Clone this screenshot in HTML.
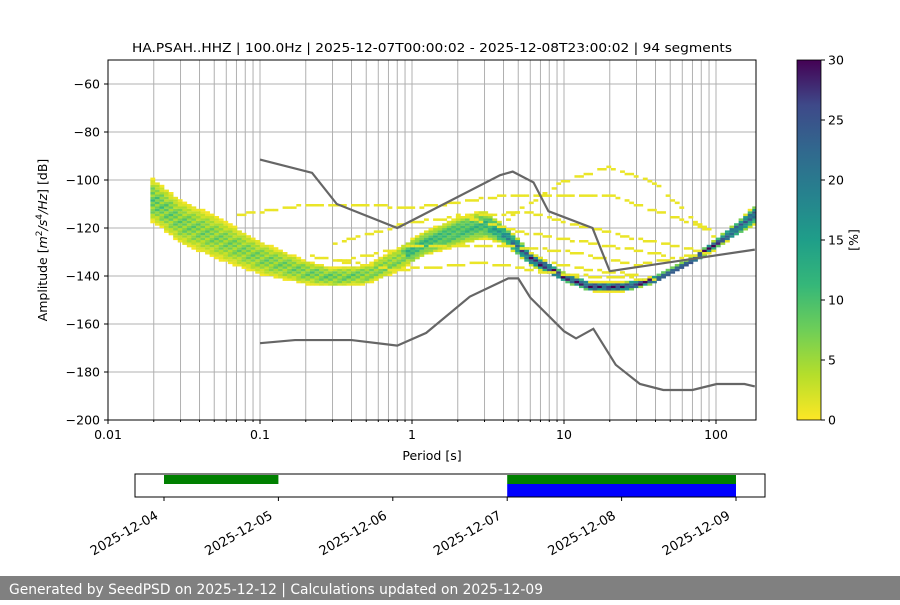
<!DOCTYPE html>
<html><head><meta charset="utf-8"><style>
body{margin:0;background:#fff;}
svg text{font-family:"DejaVu Sans","Liberation Sans",sans-serif;fill:#000;}
</style></head><body>
<svg id="chart" width="900" height="600" viewBox="0 0 900 600" xmlns="http://www.w3.org/2000/svg">
<rect width="900" height="600" fill="#fff"/>
<g id="grid"></g>
<g id="cells"></g>
<g id="models"></g>
<rect x="108" y="60" width="648" height="360" fill="none" stroke="#000" stroke-width="1"/>
<g id="axes"></g>
<text x="432" y="52" text-anchor="middle" font-size="12.5" textLength="600" lengthAdjust="spacingAndGlyphs">HA.PSAH..HHZ | 100.0Hz | 2025-12-07T00:00:02 - 2025-12-08T23:00:02 | 94 segments</text>
<text x="432" y="460" text-anchor="middle" font-size="12.5">Period [s]</text>
<text transform="translate(47,240) rotate(-90)" text-anchor="middle" font-size="12.5">Amplitude [<tspan font-style="italic">m</tspan><tspan font-size="9" dy="-5">2</tspan><tspan dy="5" font-style="italic">/s</tspan><tspan font-size="9" dy="-5">4</tspan><tspan dy="5" font-style="italic">/Hz</tspan>] [dB]</text>
<defs><linearGradient id="vir" x1="0" y1="1" x2="0" y2="0">
<stop offset="0" stop-color="#fde725"/><stop offset="0.125" stop-color="#b5de2b"/><stop offset="0.25" stop-color="#6ece58"/><stop offset="0.375" stop-color="#35b779"/><stop offset="0.5" stop-color="#1f9e89"/><stop offset="0.625" stop-color="#26828e"/><stop offset="0.75" stop-color="#31688e"/><stop offset="0.875" stop-color="#3e4989"/><stop offset="1" stop-color="#440154"/></linearGradient></defs>
<rect x="797" y="60" width="24" height="360" fill="url(#vir)" stroke="#000" stroke-width="0.8"/>
<g id="cbticks"></g>
<text transform="translate(858,240) rotate(-90)" text-anchor="middle" font-size="12.5">[%]</text>
<g id="timeline"></g>
<rect x="0" y="576" width="900" height="24" fill="#808080"/>
<text x="9" y="594" font-size="14" style="fill:#fff" textLength="534" lengthAdjust="spacingAndGlyphs">Generated by SeedPSD on 2025-12-12 | Calculations updated on 2025-12-09</text>
</svg>
<script>
const modePeriods=[0.02,0.03,0.05,0.1,0.2,0.3,0.5,0.8,1.2,2,3,4,6,10,15,25,40,70,100,150,180];
const modeDb=[-109,-118,-124,-133,-139,-141,-140,-134,-127,-122,-119,-123,-133,-141,-145,-145,-142,-134,-127,-119,-115];
const modeSpread=[9,9,9,7,5,4,4,5,5,6,6,4,3,2,2,2,1.5,1.5,2,3,4];
const modePeak=[16,14,13,13,14,15,14,13,12,11,12,18,28,30,30,30,30,30,28,26,24];
const yellowCurves=[
 {p:[0.07,0.2,0.5,1,2,4,8,20,60,100],db:[-115,-111,-111,-112,-110,-107,-107,-107,-117,-122]},
 {p:[4,6,10,20,40,80,100],db:[-118,-110,-101,-95,-102,-120,-125]},
 {p:[0.3,1,3,6,10,30,80],db:[-127,-118,-115,-114,-118,-125,-130]},
 {p:[0.3,1,4,10,30,100],db:[-135,-128,-128,-130,-136,-130]},
 {p:[0.2,0.8,3,10,40],db:[-132,-138,-135,-140,-142]},
 {p:[2,5,10,20,50],db:[-115,-122,-125,-128,-132]},
 {p:[5,8,15,30],db:[-128,-135,-138,-140]}
];
const nhnmP=[0.1,0.22,0.32,0.8,3.8,4.6,6.3,7.9,15.4,20,180];
const nhnmDb=[-91.5,-97,-110,-120,-98,-96.5,-101,-113,-120,-138,-129];
const nlnmP=[0.1,0.17,0.4,0.8,1.24,2.4,4.3,5,6,10,12,15.6,21.9,31.6,45,70,101,154,180];
const nlnmDb=[-168,-166.7,-166.7,-169,-163.7,-148.6,-141,-141,-149,-163,-166,-162,-177,-185,-187.5,-187.5,-185,-185,-186];
const yTicks=[-60,-80,-100,-120,-140,-160,-180,-200];
const xTicks=[0.01,0.1,1,10,100];
const cbTicks=[0,5,10,15,20,25,30];
const dates=["2025-12-04","2025-12-05","2025-12-06","2025-12-07","2025-12-08","2025-12-09"];
const greenSpans=[[0,1],[3,5]];
const blueSpans=[[3,5]];

const NS="http://www.w3.org/2000/svg";
function X(p){return 108+(Math.log10(p)+2)*152;}
function Y(db){return 60+(-50-db)*2.4;}
function mk(t,a,parent){const e=document.createElementNS(NS,t);for(const k in a)e.setAttribute(k,a[k]);parent.appendChild(e);return e;}
function interp(ps,vs,p){const lp=Math.log10(p);
 if(p<=ps[0])return vs[0]; if(p>=ps[ps.length-1])return vs[vs.length-1];
 for(let i=0;i<ps.length-1;i++){const a=Math.log10(ps[i]),b=Math.log10(ps[i+1]);if(lp>=a&&lp<=b){return vs[i]+(vs[i+1]-vs[i])*(lp-a)/(b-a);}}}
const vstops=[[253,231,37],[181,222,43],[110,206,88],[53,183,121],[31,158,137],[38,130,142],[49,104,142],[62,73,137],[68,1,84]];
function vir(v){let t=Math.max(0,Math.min(1,v/30))*8;const i=Math.min(7,Math.floor(t)),f=t-i;const a=vstops[i],b=vstops[i+1];
 return "rgb("+a.map((c,k)=>Math.round(c+(b[k]-c)*f)).join(",")+")";}

const grid=document.getElementById('grid');
for(let d=-2;d<=2;d++)for(let m=1;m<=9;m++){const p=m*Math.pow(10,d);const x=X(p);if(x<=108.5||x>=756)continue;
 const l=mk('line',{x1:x,x2:x,y1:60,y2:420,stroke:'#b0b0b0','stroke-width':1},grid);
 
 }
yTicks.forEach(v=>{const y=Y(v);if(y<=60||y>=420)return;
 const l=mk('line',{x1:108,x2:756,y1:y,y2:y,stroke:'#b0b0b0','stroke-width':1},grid);
 
 });

const cells=document.getElementById('cells');
const step=0.03;
let col=0;
for(let lp=Math.log10(0.019);lp<Math.log10(185);lp+=step){
 col++;
 const p=Math.pow(10,lp+step/2);const x0=X(Math.pow(10,lp)),x1=X(Math.pow(10,lp+step));
 if(x0>=756)break;
 const m=interp(modePeriods,modeDb,p),s=interp(modePeriods,modeSpread,p),pk=interp(modePeriods,modePeak,p);
 for(let db=Math.floor(m-s);db<=Math.ceil(m+s);db++){
  const d=Math.abs(db-m)/s; if(d>1)continue;
  const wob=((col*7+db*3)%5)/5;
  const v=Math.max(0.5,pk*(1-d*d)*(0.7+0.5*wob));
  const r=mk('rect',{x:x0,y:Y(db+1),width:Math.min(x1,756)-x0+0.3,height:2.5,fill:vir(v)},cells);
  
  
 }
 yellowCurves.forEach((c,ci)=>{
  if(p<c.p[0]||p>c.p[c.p.length-1])return;
  if(((col+ci)%5)===4)return;
  const db=Math.round(interp(c.p,c.db,p));
  const r=mk('rect',{x:x0,y:Y(db+1),width:Math.min(x1,756)-x0+0.3,height:2.5,fill:vir(1)},cells);
  
  
 });
}

const models=document.getElementById('models');
function poly(ps,ds,name){const pts=ps.map((p,i)=>X(p)+","+Y(ds[i])).join(" ");
 const l=mk('polyline',{points:pts,fill:'none',stroke:'#666','stroke-width':2.2},models);
 
 }
poly(nhnmP,nhnmDb,'new-high-noise-model');
poly(nlnmP,nlnmDb,'new-low-noise-model');
mk('rect',{x:756.5,y:55,width:20,height:370,fill:'#fff'},models);

const axes=document.getElementById('axes');
yTicks.forEach(v=>{const y=Y(v);mk('line',{x1:104,x2:108,y1:y,y2:y,stroke:'#000'},axes);
 const t=mk('text',{x:100,y:y+4.5,'text-anchor':'end','font-size':12.5},axes);t.textContent='\u2212'+Math.abs(v);
 
 });
xTicks.forEach(v=>{const x=X(v);mk('line',{x1:x,x2:x,y1:420,y2:424,stroke:'#000'},axes);
 const t=mk('text',{x:x,y:439,'text-anchor':'middle','font-size':12.5},axes);t.textContent=String(v);
 
 });
for(let d=-2;d<=2;d++)for(let m=2;m<=9;m++){const x=X(m*Math.pow(10,d));if(x<756)mk('line',{x1:x,x2:x,y1:420,y2:422,stroke:'#000'},axes);}

const cb=document.getElementById('cbticks');
cbTicks.forEach(v=>{const y=420-v/30*360;mk('line',{x1:821,x2:825,y1:y,y2:y,stroke:'#000'},cb);
 const t=mk('text',{x:828,y:y+4.5,'font-size':12.5},cb);t.textContent=v;
 
 });

const tl=document.getElementById('timeline');
function DX(i){return 164+i*114.4;}
greenSpans.forEach(s=>{const r=mk('rect',{x:DX(s[0]),y:475,width:DX(s[1])-DX(s[0]),height:9,fill:'#008000'},tl);
 
 });
blueSpans.forEach(s=>{const r=mk('rect',{x:DX(s[0]),y:484,width:DX(s[1])-DX(s[0]),height:13,fill:'#0000ff'},tl);
 
 });
mk('rect',{x:135,y:474,width:630,height:23,fill:'none',stroke:'#000'},tl);
dates.forEach((d,i)=>{const x=DX(i);mk('line',{x1:x,x2:x,y1:497,y2:501,stroke:'#000'},tl);
 const t=mk('text',{transform:'translate('+(x-5)+',518) rotate(-30)','text-anchor':'end','font-size':13},tl);t.textContent=d;
 
 });
</script>
</body></html>
